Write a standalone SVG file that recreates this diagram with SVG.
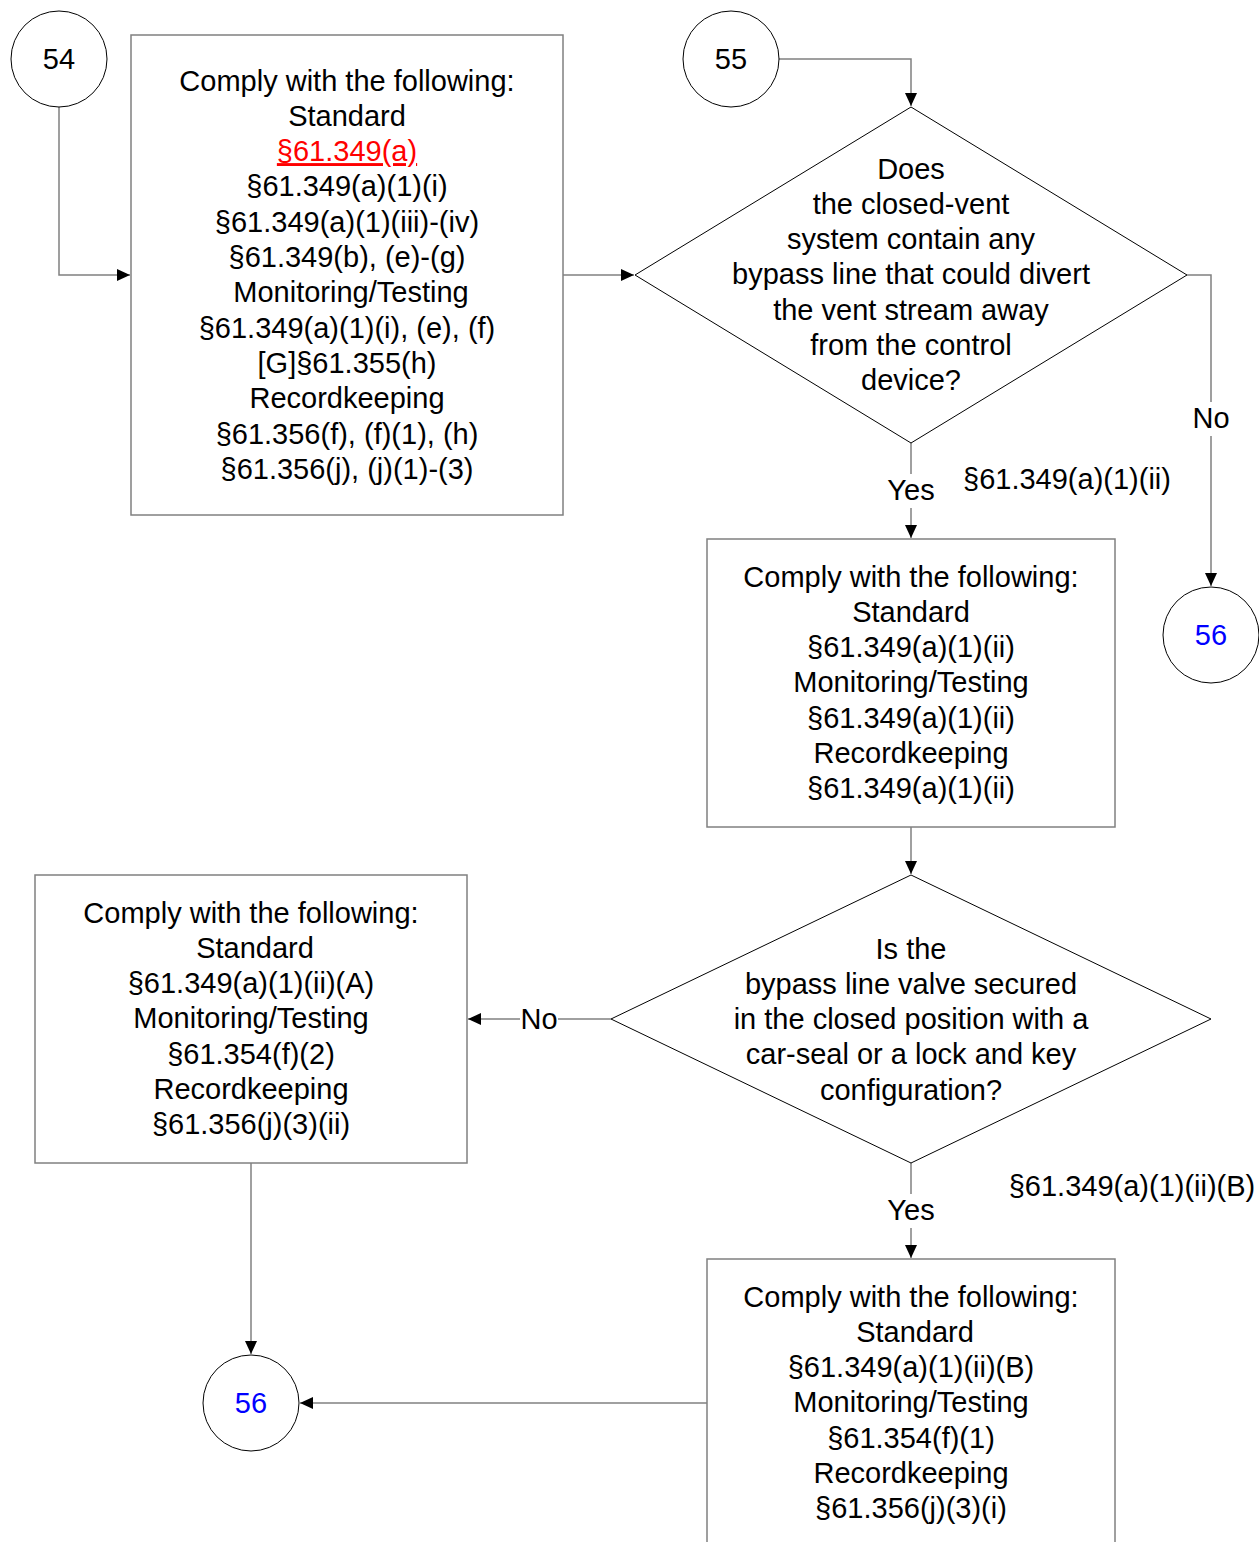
<svg xmlns="http://www.w3.org/2000/svg" width="1259" height="1542" viewBox="0 0 1259 1542">
<style>
text{font-family:"Liberation Sans",Arial,sans-serif;font-size:29px;fill:#000;text-anchor:middle}
.box{fill:#fff;stroke:#808080;stroke-width:1.5}
.dia{fill:#fff;stroke:#000;stroke-width:1}
.circ{fill:#fff;stroke:#000;stroke-width:1}
.con{fill:none;stroke:#808080;stroke-width:1.5}
.blue{fill:#0000ff}
.red{fill:#ff0000;text-decoration:underline}
.lbl{fill:#fff;stroke:none}
</style>
<defs>
<marker id="arr" markerWidth="14" markerHeight="14" refX="13" refY="7" orient="auto" markerUnits="userSpaceOnUse">
<path d="M0,1 L13,7 L0,13 Z" fill="#000"/>
</marker>
</defs>
<g id="connectors">
<path class="con" d="M59,107 V275 H130" marker-end="url(#arr)"/>
<path class="con" d="M779,59 H911 V106" marker-end="url(#arr)"/>
<path class="con" d="M563,275 H634" marker-end="url(#arr)"/>
<path class="con" d="M1187,275 H1211 V586" marker-end="url(#arr)"/>
<path class="con" d="M911,443 V538" marker-end="url(#arr)"/>
<path class="con" d="M911,827 V874" marker-end="url(#arr)"/>
<path class="con" d="M611,1019 H468" marker-end="url(#arr)"/>
<path class="con" d="M251,1163 V1354" marker-end="url(#arr)"/>
<path class="con" d="M911,1163 V1258" marker-end="url(#arr)"/>
<path class="con" d="M707,1403 H300" marker-end="url(#arr)"/>
<rect class="lbl" x="1192" y="402" width="38" height="34"/>
<text x="1211" y="428">No</text>
<rect class="lbl" x="884" y="474" width="54" height="34"/>
<text x="911" y="500">Yes</text>
<rect class="lbl" x="520" y="1003" width="38" height="34"/>
<text x="539" y="1029">No</text>
<rect class="lbl" x="884" y="1194" width="54" height="34"/>
<text x="911" y="1220">Yes</text>
<text x="1067" y="489">§61.349(a)(1)(ii)</text>
<text x="1132" y="1196">§61.349(a)(1)(ii)(B)</text>
</g>
<g id="n54">
<circle class="circ" cx="59" cy="59" r="48"/>
<text x="59" y="69">54</text>
</g>
<g id="n55">
<circle class="circ" cx="731" cy="59" r="48"/>
<text x="731" y="69">55</text>
</g>
<g id="box1">
<rect class="box" x="131" y="35" width="432" height="480"/>
<text x="347" y="90.5">Comply with the following:</text>
<text x="347" y="125.8">Standard</text>
<text x="347" y="161.1" class="red">§61.349(a)</text>
<text x="347" y="196.4">§61.349(a)(1)(i)</text>
<text x="347" y="231.7">§61.349(a)(1)(iii)-(iv)</text>
<text x="347" y="267">§61.349(b), (e)-(g)</text>
<text x="351" y="302.3">Monitoring/Testing</text>
<text x="347" y="337.6">§61.349(a)(1)(i), (e), (f)</text>
<text x="347" y="372.9">[G]§61.355(h)</text>
<text x="347" y="408.2">Recordkeeping</text>
<text x="347" y="443.5">§61.356(f), (f)(1), (h)</text>
<text x="347" y="478.8">§61.356(j), (j)(1)-(3)</text>
</g>
<g id="d1">
<polygon class="dia" points="911,107 1187,275 911,443 635,275"/>
<text x="911" y="178.5">Does</text>
<text x="911" y="213.8">the closed-vent</text>
<text x="911" y="249.1">system contain any</text>
<text x="911" y="284.4">bypass line that could divert</text>
<text x="911" y="319.7">the vent stream away</text>
<text x="911" y="355">from the control</text>
<text x="911" y="390.3">device?</text>
</g>
<g id="n56a">
<circle class="circ" cx="1211" cy="635" r="48"/>
<text x="1211" y="645" class="blue">56</text>
</g>
<g id="box2">
<rect class="box" x="707" y="539" width="408" height="288"/>
<text x="911" y="586.5">Comply with the following:</text>
<text x="911" y="621.8">Standard</text>
<text x="911" y="657.1">§61.349(a)(1)(ii)</text>
<text x="911" y="692.4">Monitoring/Testing</text>
<text x="911" y="727.7">§61.349(a)(1)(ii)</text>
<text x="911" y="763">Recordkeeping</text>
<text x="911" y="798.3">§61.349(a)(1)(ii)</text>
</g>
<g id="d2">
<polygon class="dia" points="911,875 1211,1019 911,1163 611,1019"/>
<text x="911" y="958.5">Is the</text>
<text x="911" y="993.8">bypass line valve secured</text>
<text x="911" y="1029.1">in the closed position with a</text>
<text x="911" y="1064.4">car-seal or a lock and key</text>
<text x="911" y="1099.7">configuration?</text>
</g>
<g id="box3">
<rect class="box" x="35" y="875" width="432" height="288"/>
<text x="251" y="922.5">Comply with the following:</text>
<text x="255" y="957.8">Standard</text>
<text x="251" y="993.1">§61.349(a)(1)(ii)(A)</text>
<text x="251" y="1028.4">Monitoring/Testing</text>
<text x="251" y="1063.7">§61.354(f)(2)</text>
<text x="251" y="1099">Recordkeeping</text>
<text x="251" y="1134.3">§61.356(j)(3)(ii)</text>
</g>
<g id="n56b">
<circle class="circ" cx="251" cy="1403" r="48"/>
<text x="251" y="1413" class="blue">56</text>
</g>
<g id="box4">
<rect class="box" x="707" y="1259" width="408" height="300"/>
<text x="911" y="1306.5">Comply with the following:</text>
<text x="915" y="1341.8">Standard</text>
<text x="911" y="1377.1">§61.349(a)(1)(ii)(B)</text>
<text x="911" y="1412.4">Monitoring/Testing</text>
<text x="911" y="1447.7">§61.354(f)(1)</text>
<text x="911" y="1483">Recordkeeping</text>
<text x="911" y="1518.3">§61.356(j)(3)(i)</text>
</g>
</svg>
